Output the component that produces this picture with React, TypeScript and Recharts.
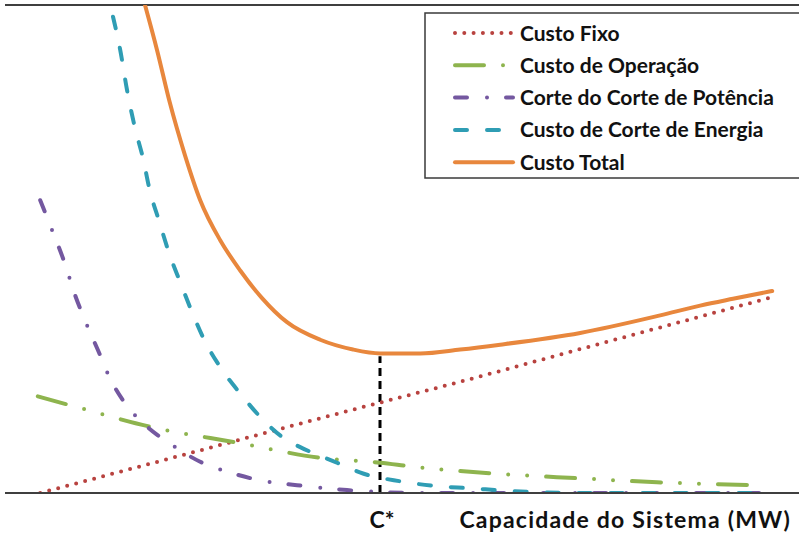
import React from "react"
import { LineChart, Line, XAxis, YAxis, CartesianGrid, ReferenceLine, Label } from "recharts"

// capacity axis in arbitrary units 0..100, cost axis 0..5 (one unit per gridline)
const X_DOMAIN: [number, number] = [0, 100]
const Y_DOMAIN: [number, number] = [0, 5]
const Y_TICKS = [0, 1, 2, 3, 4, 5]

const C_STAR = 46.875
const C_STAR_TOTAL = 1.4
const C_STAR_LABEL = "C*"
const X_TITLE = "Capacidade do Sistema (MW)"

type Pt = [number, number]

const CUSTO_FIXO: Pt[] = [
  [4.4, 0], [25, 0.45], [41.9, 0.82], [56.9, 1.14], [74.4, 1.53], [95.6, 2.0],
]

const CUSTO_OPERACAO: Pt[] = [
  [4.1, 0.99], [8.1, 0.9], [18.1, 0.68], [29.4, 0.51], [39.4, 0.36], [46.9, 0.31],
  [51, 0.27], [61, 0.2], [71.9, 0.15], [81.5, 0.11], [94.4, 0.08],
]

const CORTE_POTENCIA: Pt[] = [
  [4.4, 3.0], [5.9, 2.69], [7.4, 2.37], [8.75, 2.03], [10.25, 1.72], [11.9, 1.41],
  [12.75, 1.24], [14.75, 0.95], [16, 0.82], [17.75, 0.68], [20.9, 0.49], [24.4, 0.32],
  [28.5, 0.2], [32.5, 0.12], [36.5, 0.08], [42.75, 0.03], [46.9, 0.01], [51.9, 0], [95, 0],
]

const CORTE_ENERGIA: Pt[] = [
  [13.5, 4.88], [14.4, 4.54], [15.25, 4.13], [16.25, 3.74], [17.25, 3.43], [18.1, 3.1],
  [19.25, 2.79], [20.5, 2.46], [21.9, 2.16], [23.25, 1.88], [24.9, 1.57], [26.9, 1.29],
  [29.4, 1.02], [31.9, 0.78], [35.25, 0.54], [36.9, 0.47], [41.5, 0.31], [44.75, 0.2],
  [49.4, 0.12], [54, 0.07], [57.75, 0.05], [66, 0.01], [74.4, 0], [95, 0],
]

const CUSTO_TOTAL: Pt[] = [
  [17.5, 5.0], [19, 4.54], [20.6, 4.0], [22.5, 3.46], [24.4, 3.0], [26.9, 2.59],
  [29.4, 2.28], [32.1, 2.0], [35.25, 1.75], [39.4, 1.57], [43.5, 1.47], [46.9, 1.43],
  [51.9, 1.43], [56.9, 1.47], [61.9, 1.52], [71.9, 1.64], [81.9, 1.82], [86.9, 1.92],
  [91, 1.99], [95.9, 2.07],
]

const toRows = (pts: Pt[]) => pts.map(([x, y]) => ({ x, y }))

const SERIES = [
  { name: "Custo Fixo", pts: CUSTO_FIXO, color: "#B8423F", dash: "0 9.3", width: 4, cap: "round" },
  { name: "Custo de Operação", pts: CUSTO_OPERACAO, color: "#8EB44E", dash: "29 19 0 19 0 19", width: 4, cap: "round" },
  { name: "Corte do Corte de Potência", pts: CORTE_POTENCIA, color: "#7458A0", dash: "12 20 0 19", width: 4, cap: "round" },
  { name: "Custo de Corte de Energia", pts: CORTE_ENERGIA, color: "#2F9DB4", dash: "12 20", width: 4, cap: "round" },
  { name: "Custo Total", pts: CUSTO_TOTAL, color: "#E8873D", dash: undefined, width: 4, cap: "round" },
]

const FONT = "Lato, 'Open Sans', sans-serif"
const AXIS = "#3f3f3f"

function CStarTick(props: any) {
  const { x, y } = props
  return (
    <text x={x + 2} y={y + 27} textAnchor="middle" fontFamily={FONT} fontWeight={700} fontSize={23} fill="#111">
      {C_STAR_LABEL}
    </text>
  )
}

function AxisTitle(props: any) {
  const vb = props.viewBox || {}
  return (
    <text x={(vb.x ?? 0) + (vb.width ?? 0) - 14} y={(vb.y ?? 0) + 35} textAnchor="end" fontFamily={FONT} fontWeight={700} fontSize={23} letterSpacing={1.2} fill="#111">
      {X_TITLE}
    </text>
  )
}

function LegendBox() {
  return (
    <svg width={376} height={168} style={{ position: "absolute", left: 424, top: 12 }}>
      <rect x={1} y={1} width={378} height={165} fill="#fff" stroke="#3a3a3a" strokeWidth={1.5} />
      {SERIES.map((s, i) => {
        const cy = 21 + i * 32.3
        return (
          <g key={s.name}>
            <line x1={31} x2={89} y1={cy} y2={cy} stroke={s.color} strokeWidth={s.width} strokeDasharray={s.dash} strokeLinecap={s.cap as any} />
            <text x={96} y={cy + 7.5} fontFamily={FONT} fontWeight={700} fontSize={21} fill="#111">
              {s.name}
            </text>
          </g>
        )
      })}
    </svg>
  )
}

export default function App() {
  return (
    <div style={{ position: "absolute", left: 0, top: 0, width: 799, height: 535, overflow: "hidden", background: "#fff" }}>
      <LineChart width={810} height={535} margin={{ top: 5, right: 5, bottom: 0, left: 5 }}>
        <CartesianGrid vertical={false} stroke="#999" strokeWidth={1.2} />
        <XAxis
          type="number"
          dataKey="x"
          domain={X_DOMAIN}
          ticks={[C_STAR]}
          tick={<CStarTick />}
          tickLine={false}
          axisLine={{ stroke: AXIS, strokeWidth: 2 }}
          height={42}
          allowDataOverflow
        >
          <Label content={<AxisTitle />} />
        </XAxis>
        <YAxis
          type="number"
          domain={Y_DOMAIN}
          ticks={Y_TICKS}
          tick={false}
          tickLine={false}
          width={0}
          axisLine={{ stroke: AXIS, strokeWidth: 2 }}
          allowDataOverflow
        />
        <ReferenceLine y={5} stroke={AXIS} strokeWidth={2} />
        <ReferenceLine
          segment={[{ x: C_STAR, y: 0 }, { x: C_STAR, y: C_STAR_TOTAL }]}
          stroke="#000"
          strokeWidth={3}
          strokeDasharray="8 5"
        />
        {SERIES.map((s) => (
          <Line
            key={s.name}
            data={toRows(s.pts)}
            dataKey="y"
            name={s.name}
            type="monotone"
            stroke={s.color}
            strokeWidth={s.width}
            strokeDasharray={s.dash}
            strokeLinecap={s.cap as any}
            dot={false}
            activeDot={false}
            isAnimationActive={false}
          />
        ))}
      </LineChart>
      <LegendBox />
    </div>
  )
}
